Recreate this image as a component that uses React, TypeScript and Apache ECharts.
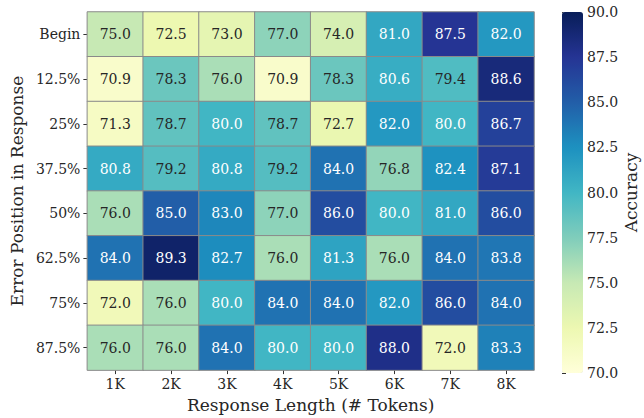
import React, { useEffect, useRef } from "react";
import * as echarts from "echarts";

const xLabels = ["1K", "2K", "3K", "4K", "5K", "6K", "7K", "8K"];
const yLabels = ["Begin", "12.5%", "25%", "37.5%", "50%", "62.5%", "75%", "87.5%"];
const rowBegin = [75.0, 72.5, 73.0, 77.0, 74.0, 81.0, 87.5, 82.0];
const row125 = [70.9, 78.3, 76.0, 70.9, 78.3, 80.6, 79.4, 88.6];
const row25 = [71.3, 78.7, 80.0, 78.7, 72.7, 82.0, 80.0, 86.7];
const row375 = [80.8, 79.2, 80.8, 79.2, 84.0, 76.8, 82.4, 87.1];
const row50 = [76.0, 85.0, 83.0, 77.0, 86.0, 80.0, 81.0, 86.0];
const row625 = [84.0, 89.3, 82.7, 76.0, 81.3, 76.0, 84.0, 83.8];
const row75 = [72.0, 76.0, 80.0, 84.0, 84.0, 82.0, 86.0, 84.0];
const row875 = [76.0, 76.0, 84.0, 80.0, 80.0, 88.0, 72.0, 83.3];
const rows = [rowBegin, row125, row25, row375, row50, row625, row75, row875];

const ylgnbu = ["#ffffd9", "#edf8b1", "#c7e9b4", "#7fcdbb", "#41b6c4", "#1d91c0", "#225ea8", "#253494", "#081d58"];
const FONT = "DejaVu Serif";

export default function App() {
  const ref = useRef<HTMLDivElement>(null);
  useEffect(() => {
    if (!ref.current) return;
    const chart = echarts.init(ref.current, null, { renderer: "svg" });
    const data: any[] = [];
    rows.forEach((row, yi) => {
      row.forEach((v, xi) => {
        data.push({
          value: [xi, yi, v],
          label: { color: v >= 80 ? "#ffffff" : "#262626" },
        });
      });
    });
    chart.setOption({
      animation: false,
      backgroundColor: "#ffffff",
      textStyle: { fontFamily: FONT },
      grid: [
        { left: 87, top: 12, width: 447, height: 361 },
        { left: 562, top: 12, width: 21, height: 361 },
      ],
      xAxis: [
        {
          type: "category",
          data: xLabels,
          gridIndex: 0,
          position: "bottom",
          axisLine: { show: false },
          axisTick: { show: true, length: 4, alignWithLabel: true, lineStyle: { color: "#333" } },
          axisLabel: { fontFamily: FONT, fontSize: 14, color: "#262626", margin: 7 },
          splitLine: { show: false },
          name: "Response Length (# Tokens)",
          nameLocation: "middle",
          nameGap: 25,
          nameTextStyle: { fontFamily: FONT, fontSize: 17, color: "#262626" },
        },
        { type: "value", gridIndex: 1, show: false, min: 0, max: 1 },
      ],
      yAxis: [
        {
          type: "category",
          data: yLabels,
          gridIndex: 0,
          inverse: true,
          axisLine: { show: false },
          axisTick: { show: true, length: 4, alignWithLabel: true, lineStyle: { color: "#333" } },
          axisLabel: { fontFamily: FONT, fontSize: 14, color: "#262626", margin: 7 },
          splitLine: { show: false },
          name: "Error Position in Response",
          nameLocation: "middle",
          nameGap: 44,
          nameRotate: 90,
          nameTextStyle: { fontFamily: FONT, fontSize: 17, color: "#262626" },
        },
        {
          type: "value",
          gridIndex: 1,
          position: "right",
          min: 70,
          max: 90,
          interval: 2.5,
          axisLine: { show: false },
          axisTick: { show: true, length: 4, lineStyle: { color: "#333" } },
          axisLabel: {
            fontFamily: FONT,
            fontSize: 14,
            color: "#262626",
            margin: 4,
            formatter: (v: number) => v.toFixed(1),
          },
          splitLine: { show: false },
          name: "Accuracy",
          nameLocation: "middle",
          nameGap: 32,
          nameRotate: 90,
          nameTextStyle: { fontFamily: FONT, fontSize: 17, color: "#262626" },
        },
      ],
      visualMap: {
        type: "continuous",
        min: 70,
        max: 90,
        calculable: false,
        seriesIndex: 0,
        orient: "vertical",
        left: 562,
        top: 12,
        padding: 0,
        itemWidth: 21,
        itemHeight: 361,
        text: null,
        showLabel: false,
        inRange: { color: ylgnbu },
      },
      series: [
        {
          type: "heatmap",
          xAxisIndex: 0,
          yAxisIndex: 0,
          data,
          label: {
            show: true,
            fontFamily: FONT,
            fontSize: 14,
            formatter: (p: any) => p.value[2].toFixed(1),
          },
          itemStyle: { borderColor: "#8a8a8a", borderWidth: 1 },
          emphasis: { disabled: true },
        },
      ],
    });
    return () => chart.dispose();
  }, []);
  return (
    <div
      ref={ref}
      style={{ position: "fixed", left: 0, top: 0, width: 644, height: 418 }}
    />
  );
}
